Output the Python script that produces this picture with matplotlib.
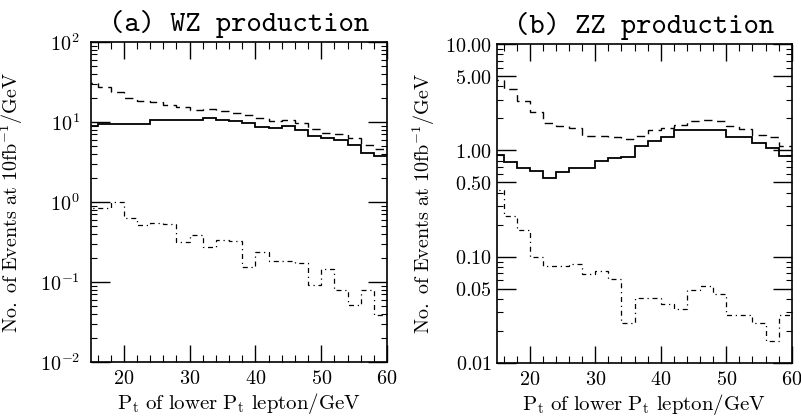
import numpy as np
import matplotlib
matplotlib.use("Agg")
import matplotlib.pyplot as plt
from matplotlib.ticker import FixedLocator, FuncFormatter, NullFormatter

plt.rcParams["mathtext.fontset"] = "cm"

# bin edges in GeV (2 GeV bins, first one clipped by the axis at 15)
edges = np.arange(14, 61, 2)

# (a) WZ production, events per GeV
wz_dashed = [31, 27.6, 23.9, 19.8, 18.3, 17.6, 16.3, 15.2, 14.1, 14.7, 13.8, 12.8,
             12.1, 11.1, 10.4, 10.6, 9.6, 8.2, 7.2, 7.1, 6.25, 5.2, 4.55]
wz_solid = [9.0, 9.4, 9.4, 9.4, 9.4, 10.6, 10.6, 10.6, 10.6, 11.1, 10.6, 10.2,
            9.8, 8.6, 8.5, 8.8, 7.9, 6.6, 6.3, 6.0, 5.2, 4.1, 3.8]
wz_dashdot = [0.83, 0.83, 1.0, 0.63, 0.516, 0.54, 0.53, 0.32, 0.39, 0.277, 0.335, 0.33,
              0.155, 0.235, 0.183, 0.183, 0.171, 0.092, 0.144, 0.079, 0.052, 0.079, 0.039]

# (b) ZZ production
zz_dashed = [4.6, 3.78, 2.93, 2.3, 1.81, 1.71, 1.62, 1.37, 1.38, 1.34, 1.29, 1.37,
             1.57, 1.62, 1.75, 1.9, 1.94, 1.9, 1.68, 1.6, 1.4, 1.33, 1.09]
zz_solid = [0.91, 0.77, 0.69, 0.635, 0.55, 0.62, 0.68, 0.68, 0.79, 0.85, 0.87, 1.09,
            1.23, 1.35, 1.57, 1.57, 1.57, 1.57, 1.33, 1.35, 1.17, 1.05, 0.88]
zz_dashdot = [0.42, 0.24, 0.18, 0.099, 0.082, 0.081, 0.085, 0.069, 0.073, 0.062, 0.024, 0.041,
              0.041, 0.036, 0.032, 0.049, 0.053, 0.045, 0.028, 0.028, 0.024, 0.016, 0.028]

zz_major = [0.01, 0.05, 0.1, 0.5, 1.0, 5.0, 10.0]
zz_labels = ["0.01", "0.05", "0.10", "0.50", "1.00", "5.00", "10.00"]

DASH = (0, (6, 4))
DASHDOT = (0, (4, 3, 1, 3))

fig = plt.figure(figsize=(8.01, 4.19), dpi=100)
ax1 = fig.add_axes([0.1136, 0.136, 0.3695, 0.7637])
ax2 = fig.add_axes([0.6205, 0.1337, 0.368, 0.761])


def draw(ax, dashed, solid, dashdot):
    ax.stairs(dashed, edges, color="black", lw=1.0, linestyle=DASH, baseline=None)
    ax.stairs(solid, edges, color="black", lw=1.3, baseline=None)
    ax.stairs(dashdot, edges, color="black", lw=0.9, linestyle=DASHDOT, baseline=None)
    ax.set_yscale("log")
    ax.set_xlim(15, 60)
    ax.xaxis.set_major_locator(FixedLocator([20, 30, 40, 50, 60]))
    ax.xaxis.set_minor_locator(FixedLocator(np.arange(16, 60, 2)))
    ax.xaxis.set_major_formatter(FuncFormatter(lambda v, p: r"$%d$" % v))
    ax.tick_params(which="both", direction="in", top=True, right=True)
    ax.tick_params(axis="x", which="major", length=12, width=1.0, labelsize=14.5, pad=5)
    ax.tick_params(axis="x", which="minor", length=5, width=0.8)
    ax.tick_params(axis="y", which="major", length=14, width=1.0, labelsize=14.5)
    ax.tick_params(axis="y", which="minor", length=4.5, width=0.8)
    for s in ax.spines.values():
        s.set_linewidth(1.2)
    ax.set_xlabel(r"$\mathrm{P_t\ of\ lower\ P_t\ lepton/GeV}$", fontsize=15, labelpad=2)
    ax.set_ylabel(r"$\mathrm{No.\ of\ Events\ at\ 10fb^{-1}/GeV}$", fontsize=14.5)


draw(ax1, wz_dashed, wz_solid, wz_dashdot)
ax1.set_ylim(1e-2, 1e2)
ax1.yaxis.set_major_locator(FixedLocator([1e-2, 1e-1, 1e0, 1e1, 1e2]))
ax1.yaxis.set_major_formatter(FuncFormatter(lambda v, p: r"$10^{%d}$" % round(np.log10(v))))
ax1.yaxis.set_minor_locator(FixedLocator([m * 10.0 ** d for d in range(-2, 2) for m in range(2, 10)]))
ax1.yaxis.set_minor_formatter(NullFormatter())
ax1.tick_params(axis="y", which="major", pad=8)
ax1.yaxis.set_label_coords(-0.222, 0.5)
ax1.set_title("(a) WZ production", fontfamily="cmtt10", fontsize=21, pad=8)

draw(ax2, zz_dashed, zz_solid, zz_dashdot)
ax2.set_ylim(0.01, 10)
ax2.yaxis.set_major_locator(FixedLocator(zz_major))
ax2.yaxis.set_major_formatter(FuncFormatter(
    lambda v, p: r"$%s$" % zz_labels[int(np.argmin(np.abs(np.array(zz_major) - v)))]))
ax2.yaxis.set_minor_locator(FixedLocator(
    [m * 10.0 ** d for d in range(-2, 1) for m in (2, 3, 4, 6, 7, 8, 9)]))
ax2.yaxis.set_minor_formatter(NullFormatter())
ax2.yaxis.set_label_coords(-0.203, 0.5)
ax2.set_title("(b) ZZ production", fontfamily="cmtt10", fontsize=21, pad=8)

fig.savefig("out.png", dpi=100, facecolor="white")
